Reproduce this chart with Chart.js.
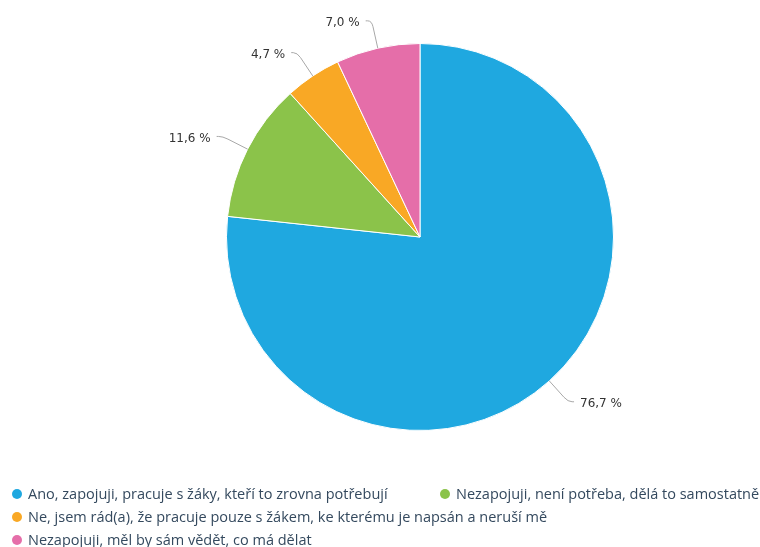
<!DOCTYPE html>
<html>
<head>
<meta charset="utf-8">
<script src="https://cdn.jsdelivr.net/npm/chart.js@4/dist/chart.umd.min.js"></script>
<style>
  html, body { margin: 0; padding: 0; background: #fff; }
  #wrap { position: relative; width: 760px; height: 547px; }
</style>
</head>
<body>
<div id="wrap"><canvas id="c" width="760" height="547"></canvas></div>
<script>
const categories = [
  'Ano, zapojuji, pracuje s žáky, kteří to zrovna potřebují',
  'Nezapojuji, není potřeba, dělá to samostatně',
  'Ne, jsem rád(a), že pracuje pouze s žákem, ke kterému je napsán a neruší mě',
  'Nezapojuji, měl by sám vědět, co má dělat'
];
const shares = [76.7, 11.6, 4.7, 7.0];
const colors = ['#1fa8e0', '#8bc34a', '#f9a825', '#e56ea9'];

// Legend grid: slot per category (column, row)
const legendSlots = [[0, 0], [1, 0], [0, 1], [0, 2]];

const fmt = v => v.toFixed(1).replace('.', ',') + ' %';

// Outside labels joined to their slices by bent connector lines
const outsideLabels = {
  id: 'outsideLabels',
  afterDatasetsDraw(chart) {
    const ctx = chart.ctx;
    const meta = chart.getDatasetMeta(0);
    ctx.save();
    ctx.font = '12px "DejaVu Sans", sans-serif';
    ctx.textBaseline = 'middle';
    meta.data.forEach((arc, i) => {
      const mid = (arc.startAngle + arc.endAngle) / 2;
      const R = arc.outerRadius;
      const cx = arc.x, cy = arc.y;
      const dx = Math.cos(mid), dy = Math.sin(mid);
      const side = dx >= 0 ? 1 : -1;
      const ax = cx + R * dx, ay = cy + R * dy;
      const bx = cx + (R + 28) * dx, by = cy + (R + 28) * dy;
      ctx.strokeStyle = '#a8a8a8';
      ctx.lineWidth = 1;
      ctx.beginPath();
      ctx.moveTo(ax, ay);
      ctx.lineTo(bx - 6 * dx, by - 6 * dy);
      ctx.quadraticCurveTo(bx, by, bx + 4 * side, by);
      ctx.lineTo(bx + 6 * side, by);
      ctx.stroke();
      ctx.fillStyle = '#333333';
      ctx.textAlign = side > 0 ? 'left' : 'right';
      ctx.fillText(fmt(shares[i]), bx + 12 * side, by + 2.5);
    });
    ctx.restore();
  }
};

// Two-column legend under the pie
const gridLegend = {
  id: 'gridLegend',
  afterDraw(chart) {
    const ctx = chart.ctx;
    ctx.save();
    ctx.font = '14.5px "Open Sans", sans-serif';
    ctx.textBaseline = 'middle';
    ctx.textAlign = 'left';
    const colX = [17, 445];
    const rowY = [494, 517, 540];
    categories.forEach((name, i) => {
      const [c, r] = legendSlots[i];
      const x = colX[c], y = rowY[r];
      ctx.fillStyle = colors[i];
      ctx.beginPath();
      ctx.arc(x, y, 5, 0, Math.PI * 2);
      ctx.fill();
      ctx.fillStyle = '#34495e';
      ctx.fillText(name, x + 11, y + 1);
    });
    ctx.restore();
  }
};

new Chart(document.getElementById('c'), {
  type: 'pie',
  data: {
    labels: categories,
    datasets: [{
      data: shares,
      backgroundColor: colors,
      borderColor: '#ffffff',
      borderWidth: 1
    }]
  },
  options: {
    responsive: false,
    animation: false,
    layout: { padding: { top: 43, bottom: 116, left: 226, right: 146 } },
    plugins: {
      legend: { display: false },
      tooltip: { enabled: false }
    }
  },
  plugins: [outsideLabels, gridLegend]
});
</script>
</body>
</html>
